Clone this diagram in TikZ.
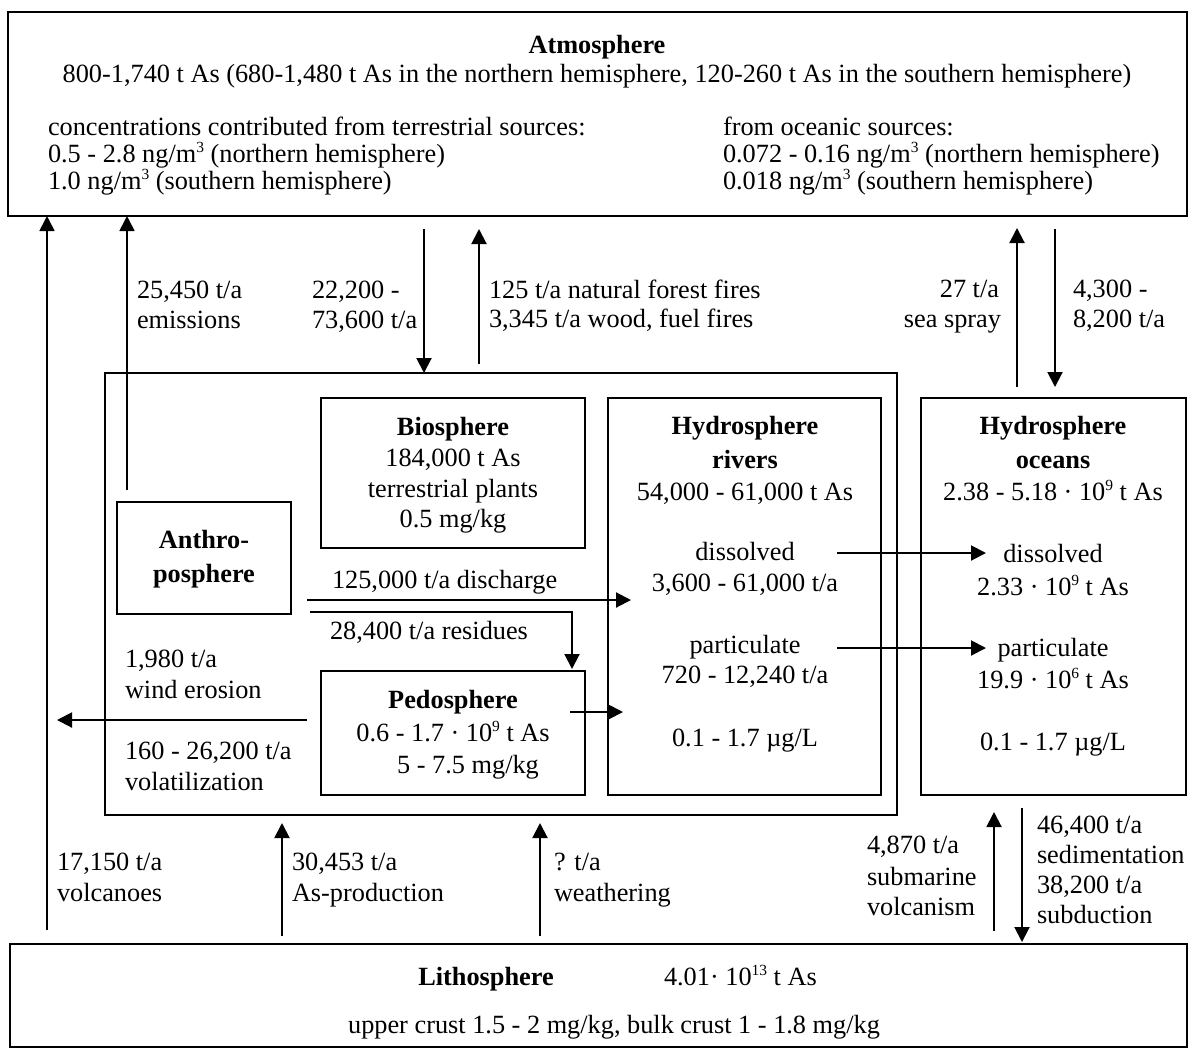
\documentclass[tikz,border=0pt]{standalone}
\usepackage{fontspec}
\setmainfont{Liberation Serif}
\usetikzlibrary{arrows.meta}
\newcommand\mysup[1]{\raisebox{0.36em}{\fontsize{15.5}{15.5}\selectfont #1}}
\begin{document}
\begin{tikzpicture}[x=1pt,y=-1pt,
  every node/.style={font=\fontsize{26.3}{30}\selectfont, inner sep=0pt, outer sep=0pt},
  box/.style={draw, line width=1.8pt, anchor=north west},
  arr/.style={line width=2pt, -{Triangle[length=15pt,width=15pt]}},
  txt/.style={anchor=base west},
  ctxt/.style={anchor=base},
  rtxt/.style={anchor=base east},
  ttl/.style={anchor=base, font=\fontsize{26.3}{30}\selectfont\bfseries}]
\useasboundingbox (0,0) rectangle (1190,1050);
% boxes
\node[box, minimum width=1179pt, minimum height=204pt] (atm) at (8,12) {};
\node[box, minimum width=792pt, minimum height=442pt, line width=1.6pt] (outer) at (105,373) {};
\node[box, minimum width=264pt, minimum height=150pt] (bio) at (321,398) {};
\node[box, minimum width=174pt, minimum height=112pt] (anth) at (117,502) {};
\node[box, minimum width=273pt, minimum height=397pt] (riv) at (608,398) {};
\node[box, minimum width=264pt, minimum height=124pt] (pedo) at (321,671) {};
\node[box, minimum width=265pt, minimum height=397pt] (ocn) at (921,398) {};
\node[box, minimum width=1177pt, minimum height=103pt] (lith) at (10,944) {};
% atmosphere text
\node[ttl] (atmT) at (597,53) {Atmosphere};
\node[ctxt] (atm1) at (597,82) {800-1,740 t As (680-1,480 t As in the northern hemisphere, 120-260 t As in the southern hemisphere)};
\node[txt] (atm2) at (48,135) {concentrations contributed from terrestrial sources:};
\node[txt] (atm3) at (48,162) {0.5 - 2.8 ng/m\mysup{3} (northern hemisphere)};
\node[txt] (atm4) at (48,189) {1.0 ng/m\mysup{3} (southern hemisphere)};
\node[txt] (atm5) at (723,135) {from oceanic sources:};
\node[txt] (atm6) at (723,162) {0.072 - 0.16 ng/m\mysup{3} (northern hemisphere)};
\node[txt] (atm7) at (723,189) {0.018 ng/m\mysup{3} (southern hemisphere)};
% biosphere
\node[ttl] (bioT) at (453,435) {Biosphere};
\node[ctxt] (bio1) at (453,466) {184,000 t As};
\node[ctxt] (bio2) at (453,497) {terrestrial plants};
\node[ctxt] (bio3) at (453,527) {0.5 mg/kg};
% anthroposphere
\node[ttl] (anT1) at (204,548) {Anthro-};
\node[ttl] (anT2) at (204,582) {posphere};
% rivers
\node[ttl] (rivT1) at (745,434) {Hydrosphere};
\node[ttl] (rivT2) at (745,468) {rivers};
\node[ctxt] (riv1) at (745,500) {54,000 - 61,000 t As};
\node[ctxt] (riv2) at (745,560) {dissolved};
\node[ctxt] (riv3) at (745,591) {3,600 - 61,000 t/a};
\node[ctxt] (riv4) at (745,653) {particulate};
\node[ctxt] (riv5) at (745,683) {720 - 12,240 t/a};
\node[ctxt] (riv6) at (745,746) {0.1 - 1.7 µg/L};
% oceans
\node[ttl] (ocT1) at (1053,434) {Hydrosphere};
\node[ttl] (ocT2) at (1053,468) {oceans};
\node[ctxt] (oc1) at (1053,500) {2.38 - 5.18 · 10\mysup{9} t As};
\node[ctxt] (oc2) at (1053,562) {dissolved};
\node[ctxt] (oc3) at (1053,595) {2.33 · 10\mysup{9} t As};
\node[ctxt] (oc4) at (1053,656) {particulate};
\node[ctxt] (oc5) at (1053,688) {19.9 · 10\mysup{6} t As};
\node[ctxt] (oc6) at (1053,750) {0.1 - 1.7 µg/L};
% pedosphere
\node[ttl] (pedT) at (453,708) {Pedosphere};
\node[ctxt] (ped1) at (453,741) {0.6 - 1.7 · 10\mysup{9} t As};
\node[ctxt] (ped2) at (468,773) {5 - 7.5 mg/kg};
% lithosphere
\node[ttl] (litT) at (486,985) {Lithosphere};
\node[txt] (lit1) at (664,985) {4.01· 10\mysup{13} t As};
\node[ctxt] (lit2) at (614,1033) {upper crust 1.5 - 2 mg/kg, bulk crust 1 - 1.8 mg/kg};
% flux labels
\node[txt] (l1a) at (137,298) {25,450 t/a};
\node[txt] (l1b) at (137,328) {emissions};
\node[txt] (l2a) at (312,298) {22,200 -};
\node[txt] (l2b) at (312,328) {73,600 t/a};
\node[txt] (l3a) at (489,298) {125 t/a natural forest fires};
\node[txt] (l3b) at (489,327) {3,345 t/a wood, fuel fires};
\node[rtxt] (l4a) at (999,297) {27 t/a};
\node[rtxt] (l4b) at (1001,327) {sea spray};
\node[txt] (l5a) at (1073,297) {4,300 -};
\node[txt] (l5b) at (1073,327) {8,200 t/a};
\node[txt] (l6) at (332,588) {125,000 t/a discharge};
\node[txt] (l7) at (330,639) {28,400 t/a residues};
\node[txt] (l8a) at (125,667) {1,980 t/a};
\node[txt] (l8b) at (125,698) {wind erosion};
\node[txt] (l8c) at (125,759) {160 - 26,200 t/a};
\node[txt] (l8d) at (125,790) {volatilization};
\node[txt] (l9a) at (57,870) {17,150 t/a};
\node[txt] (l9b) at (57,901) {volcanoes};
\node[txt] (l10a) at (292,870) {30,453 t/a};
\node[txt] (l10b) at (292,901) {As-production};
\node[txt] (l11a) at (554,870) {? t/a};
\node[txt] (l11b) at (554,901) {weathering};
\node[txt] (l12a) at (867,853) {4,870 t/a};
\node[txt] (l12b) at (867,885) {submarine};
\node[txt] (l12c) at (867,915) {volcanism};
\node[txt] (l13a) at (1037,833) {46,400 t/a};
\node[txt] (l13b) at (1037,863) {sedimentation};
\node[txt] (l13c) at (1037,893) {38,200 t/a};
\node[txt] (l13d) at (1037,923) {subduction};
% arrow end coordinates
\coordinate (volS) at (47,930);
\coordinate (emiS) at (127,490);
\coordinate (depS) at (424,229);
\coordinate (fireS) at (479,364);
\coordinate (fireE) at (479,229);
\coordinate (sprS) at (1017,387);
\coordinate (sprE) at (1017,228);
\coordinate (odS) at (1055,229);
\coordinate (odE) at (1055,387);
\coordinate (disS) at (307,600);
\coordinate (disE) at (631,600);
\coordinate (resS) at (310,612);
\coordinate (resE) at (572,669);
\coordinate (prS) at (570,712);
\coordinate (prE) at (623,712);
\coordinate (wS) at (307,720);
\coordinate (wE) at (57,720);
\coordinate (dS) at (837,553);
\coordinate (dE) at (986,553);
\coordinate (pS) at (837,648);
\coordinate (pE) at (986,648);
\coordinate (apS) at (282,936);
\coordinate (apE) at (282,823);
\coordinate (weS) at (540,936);
\coordinate (weE) at (540,823);
\coordinate (smS) at (994,931);
\coordinate (smE) at (994,812);
\coordinate (sdS) at (1022,808);
\coordinate (sdE) at (1022,942);
% arrows
\draw[arr, line width=1.6pt] (volS) -- (volS |- atm.south);
\draw[arr, line width=1.6pt] (emiS) -- (emiS |- atm.south);
\draw[arr] (depS) -- (depS |- outer.north);
\draw[arr] (fireS) -- (fireE);
\draw[arr] (sprS) -- (sprE);
\draw[arr] (odS) -- (odE);
\draw[arr] (disS) -- (disE);
\draw[arr] (resS) -| (resE);
\draw[arr] (prS) -- (prE);
\draw[arr] (wS) -- (wE);
\draw[arr] (dS) -- (dE);
\draw[arr] (pS) -- (pE);
\draw[arr] (apS) -- (apE);
\draw[arr] (weS) -- (weE);
\draw[arr] (smS) -- (smE);
\draw[arr] (sdS) -- (sdE);
\end{tikzpicture}
\end{document}
